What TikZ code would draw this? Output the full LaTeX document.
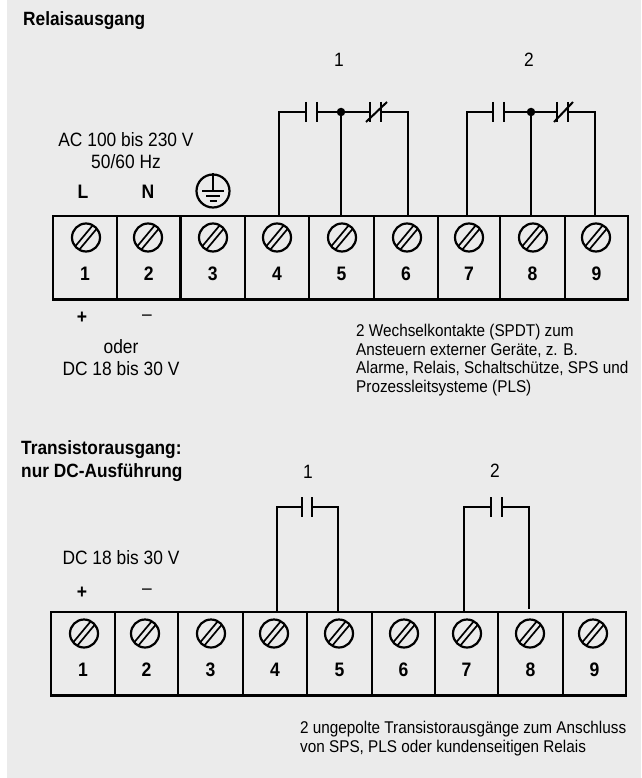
\documentclass[tikz,border=0pt]{standalone}
\usepackage{fontspec}
\setmainfont[FakeStretch=0.9]{Liberation Sans}
\usetikzlibrary{calc}
\definecolor{panel}{HTML}{EBEBEB}
\tikzset{
  cell/.style={draw, rectangle, line width=2.5pt, outer sep=0pt, inner sep=0pt, minimum height=83.5pt},
  screw/.style={
    draw, circle, line width=2.2pt, outer sep=0pt, inner sep=0pt, minimum size=28pt,
    path picture={
      \draw[line width=1.7pt]
        ($(path picture bounding box.center)+(-11.6,9.8)$) -- ($(path picture bounding box.center)+(7.6,-13.2)$)
        ($(path picture bounding box.center)+(-7.6,13.2)$) -- ($(path picture bounding box.center)+(11.6,-9.8)$);
    }
  },
  wire/.style={line width=2pt, line join=miter},
  plate/.style={line width=2pt},
}
% one terminal: name, digit, left edge, right edge, screw x, top edge
\newcommand{\terminal}[6]{
  \node [cell, minimum width={(#4-#3)*1pt}, anchor=north west] at (#3,#6) (#1) {};
  \node [screw] at (#5,#6+21.5) (#1s) {};
  \node [bnum] at ({(#3+#4)/2},#6+58) (#1n) {#2};
}
% open contact: name, first plate x, second plate x, y
\newcommand{\contact}[4]{
  \coordinate (#1a) at (#2,#4);
  \coordinate (#1b) at (#3,#4);
  \draw[plate] (#2,#4-10) -- (#2,#4+10);
  \draw[plate] (#3,#4-10) -- (#3,#4+10);
}
\begin{document}
\begin{tikzpicture}
  [
    x=1pt, y=-1pt,
    txt/.style  = {inner sep=0pt, font=\fontsize{19.3}{22}\selectfont, align=center},
    small/.style= {inner sep=0pt, font=\fontsize{17}{18.7}\selectfont, align=left, anchor=north west},
    head/.style = {inner sep=0pt, font=\fontsize{19.2}{23}\bfseries\selectfont, align=left, anchor=north west},
    bnum/.style = {inner sep=0pt, font=\fontsize{19.5}{20}\bfseries\selectfont},
    dot/.style  = {circle, fill=black, inner sep=0pt, minimum size=8.5pt}
  ]
  \useasboundingbox (0,0) rectangle (641,778);
  \fill[panel] (7,0) rectangle (641,778);

  % Relaisausgang
  \node [head] at (23,11) (h1) {Relaisausgang};
  \node [txt] at (339,60)  (l1) {1};
  \node [txt] at (529,60)  (l2) {2};
  \node [txt] at (126,151) (ac) {AC 100 bis 230 V\\50/60 Hz};
  \node [bnum] at (83,192)  (phl) {L};
  \node [bnum] at (148,192) (phn) {N};
  \node [bnum] at (82,318)  (plus) {+};
  \node [txt]  at (147,318) (minus) {--};
  \node [txt]  at (121,358) (dc) {oder\\DC 18 bis 30 V};
  \node [small] at (356,324) (info) {2 Wechselkontakte (SPDT) zum\\Ansteuern externer Geräte, z. B.\\Alarme, Relais, Schaltschütze, SPS und\\Prozessleitsysteme (PLS)};

  \node [circle, draw, line width=2.2pt, inner sep=0pt, minimum size=33pt] at (213,191) (pe) {};
  \draw[plate] (pe.north) -- (pe.center);
  \draw[plate] ($(pe.center)+(-11,0)$) -- ($(pe.center)+(11,0)$);
  \draw[plate] ($(pe.center)+(-7,5)$)  -- ($(pe.center)+(7,5)$);
  \draw[plate] ($(pe.center)+(-3.5,10)$) -- ($(pe.center)+(3.5,10)$);

  \terminal{r1}{1}{53}{117}{86}{216}
  \terminal{r2}{2}{117}{180.5}{148}{216}
  \terminal{r3}{3}{180.5}{245}{213}{216}
  \terminal{r4}{4}{245}{309}{277}{216}
  \terminal{r5}{5}{309}{374}{342}{216}
  \terminal{r6}{6}{374}{438}{407}{216}
  \terminal{r7}{7}{438}{500}{469}{216}
  \terminal{r8}{8}{500}{565}{533}{216}
  \terminal{r9}{9}{565}{628}{596}{216}

  \contact{ka}{306}{317}{112}
  \contact{kb}{370}{381}{112}
  \contact{kc}{493}{504}{112}
  \contact{kd}{557}{568}{112}
  \draw[plate] (366,122) -- (387,102);
  \draw[plate] (554,122) -- (573,102);
  \node [dot] at (341,112) (d1) {};
  \node [dot] at (531,112) (d2) {};

  \draw[wire] (kaa) -| ($(r4.north)+(2,0)$);
  \draw[wire] (kab) -- (d1.center) -- (kba);
  \draw[wire] (d1.center) -- ($(r5.north)+(-0.5,0)$);
  \draw[wire] (kbb) -| ($(r6.north)+(2,0)$);
  \draw[wire] (kca) -| ($(r7.north)+(-2,0)$);
  \draw[wire] (kcb) -- (d2.center) -- (kda);
  \draw[wire] (d2.center) -- ($(r8.north)+(-1.5,0)$);
  \draw[wire] (kdb) -| ($(r9.north)+(-1.5,0)$);

  % Transistorausgang
  \node [head] at (21,440) (h2) {Transistorausgang:\\nur DC-Ausführung};
  \node [txt] at (308,472) (t1) {1};
  \node [txt] at (495,471) (t2) {2};
  \node [txt] at (121,558) (dcb) {DC 18 bis 30 V};
  \node [bnum] at (82,593) (plusb) {+};
  \node [txt]  at (147,592) (minusb) {--};
  \node [small] at (300,721) (infob) {2 ungepolte Transistorausgänge zum Anschluss\\von SPS, PLS oder kundenseitigen Relais};

  \terminal{s1}{1}{51}{115}{84}{612}
  \terminal{s2}{2}{115}{178}{145}{612}
  \terminal{s3}{3}{178}{243}{211}{612}
  \terminal{s4}{4}{243}{307}{274}{612}
  \terminal{s5}{5}{307}{372}{339}{612}
  \terminal{s6}{6}{372}{435}{404}{612}
  \terminal{s7}{7}{435}{498}{467}{612}
  \terminal{s8}{8}{498}{563}{530}{612}
  \terminal{s9}{9}{563}{626}{593}{612}

  \contact{ke}{302}{312}{507}
  \contact{kf}{491}{502}{507}
  \draw[wire] (kea) -| ($(s4.north)+(2,0)$);
  \draw[wire] (keb) -| ($(s5.north)+(-1.5,0)$);
  \draw[wire] (kfa) -| ($(s7.north)+(-2.5,0)$);
  \draw[wire] (kfb) -| ($(s8.north)+(-1.5,-3)$);

\end{tikzpicture}
\end{document}
